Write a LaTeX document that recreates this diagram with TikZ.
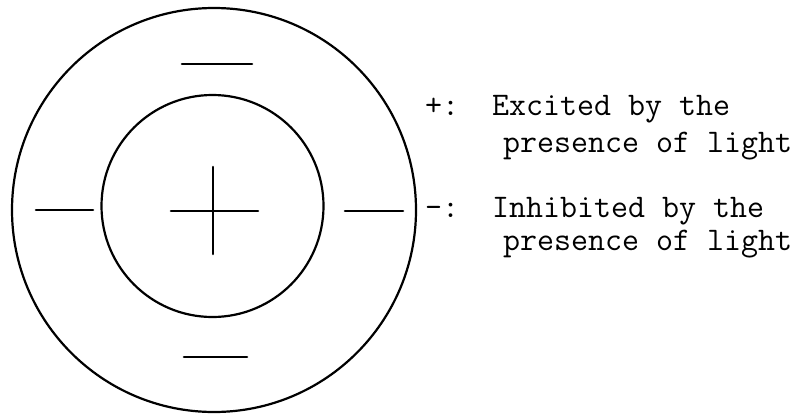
\documentclass[tikz,border=0pt]{standalone}
\usepackage{fontspec}
\usetikzlibrary{calc, positioning}

\begin{document}
\begin{tikzpicture}[x=1pt, y=-1pt, line cap=round]
    \def\ox{214}
    \def\oy{210}
    \def\orad{202}
    \def\ix{212.5}
    \def\iy{206}
    \def\irad{111}
    \tikzset{bar/.style={line width=2.6pt},
             legend/.style={anchor=base west, inner sep=0pt,
                            font=\fontsize{33}{38}\selectfont\ttfamily}}
    \useasboundingbox (0,0) rectangle (803,415);
    \draw[line width=2.2pt] (\ox,\oy) circle (\orad);
    \draw[line width=2.2pt] (\ix,\iy) circle (\irad);
    % centre
    \draw[bar] (171,211) -- (258,211);
    \draw[bar] (213,167) -- (213,254);
    % surround
    \draw[bar] (182,64) -- (252,64);
    \draw[bar] (184,357) -- (247,357);
    \draw[bar] (36,210) -- (93,210);
    \draw[bar] (345,211) -- (403,211);
    \node[legend] (plus) at (425,115) {+:};
    \node[legend] (excited) at (492,115) {Excited by the};
    \node[legend] (excitedlight) at (503,152) {presence of light};
    \node[legend] (minus) at (425,217) {-:};
    \node[legend] (inhibited) at (492,217) {Inhibited by the};
    \node[legend] (inhibitedlight) at (503,250) {presence of light};
\end{tikzpicture}
\end{document}
